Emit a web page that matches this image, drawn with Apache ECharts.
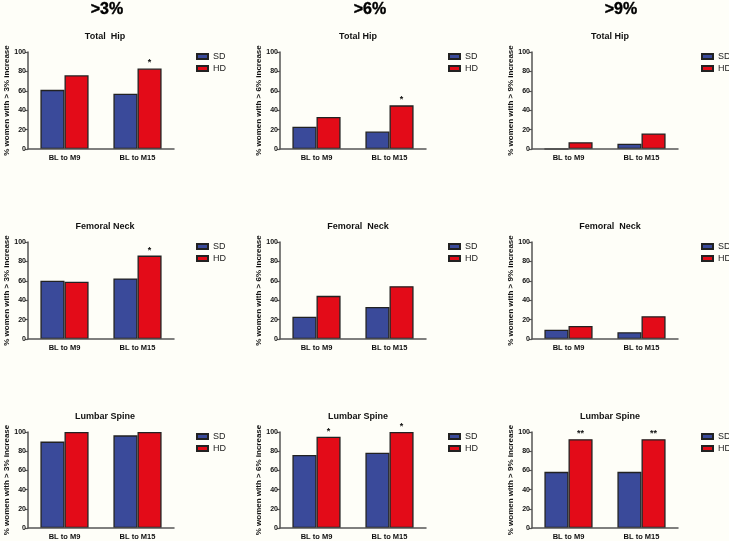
<!DOCTYPE html>
<html>
<head>
<meta charset="utf-8">
<script src="https://cdn.jsdelivr.net/npm/echarts@6/dist/echarts.min.js"></script>
<style>
html,body{margin:0;padding:0;background:#fefef8;}
#chart{width:729px;height:541px;}
</style>
</head>
<body>
<div id="chart"></div>
<script>
// ---- data ----
var categories = ['BL to M9', 'BL to M15'];
var thresholds = ['>3%', '>6%', '>9%'];
var yAxisTitles = ['% women with > 3% increase', '% women with > 6% increase', '% women with > 9% increase'];
var panelTitles = [
  'Total  Hip', 'Total Hip', 'Total Hip',
  'Femoral Neck', 'Femoral  Neck', 'Femoral  Neck',
  'Lumbar Spine', 'Lumbar Spine', 'Lumbar Spine'
];
var seriesNames = ['SD', 'HD'];
var yTicks = [0, 20, 40, 60, 80, 100];
// values per panel (row-major: Total Hip, Femoral Neck, Lumbar Spine x >3%, >6%, >9%)
var sdValues = [
  [61, 57], [23, 18], [0, 5.5],
  [60, 62.5], [23, 33], [9.5, 7],
  [90, 96.5], [76, 78.5], [58.5, 58.5]
];
var hdValues = [
  [76, 83], [33, 45], [7, 16],
  [59, 86], [44.5, 54.5], [13.5, 23.5],
  [100, 100], [95, 100], [92.5, 92.5]
];
var hdStars = [
  ['', '*'], ['', '*'], ['', ''],
  ['', '*'], ['', ''], ['', ''],
  ['', ''], ['*', '*'], ['**', '**']
];

// ---- layout ----
var FONT = '"Liberation Sans", Arial, sans-serif';
var colLeft = [28, 280, 532];
var colHeader = [102, 365, 616];
var colTitle = [100, 353, 605];
var colLegend = [196, 448, 701];
var rowTop = [52, 242, 432];
var gridW = 146, gridH = 97;
var colors = ['#3a4a9a', '#e30b18'];

var chart = echarts.init(document.getElementById('chart'), null, {renderer: 'canvas'});
var option = {
  backgroundColor: '#fefef8',
  animation: false,
  title: [], grid: [], xAxis: [], yAxis: [], series: [], legend: []
};

for (var c = 0; c < 3; c++) {
  option.title.push({
    text: thresholds[c], left: colHeader[c], top: -3, textAlign: 'center',
    textStyle: {fontFamily: FONT, fontSize: 16, fontWeight: 'bold', color: '#000',
      textBorderColor: '#000', textBorderWidth: 0.4}
  });
}

for (var i = 0; i < 9; i++) {
  var r = Math.floor(i / 3), c = i % 3;
  option.title.push({
    text: panelTitles[i], left: colTitle[c], top: rowTop[r] - 25, textAlign: 'center',
    textStyle: {fontFamily: FONT, fontSize: 9, fontWeight: 'bold', color: '#111'}
  });
  option.grid.push({left: colLeft[c], top: rowTop[r], width: gridW, height: gridH, containLabel: false});
  option.xAxis.push({
    type: 'category', gridIndex: i, data: categories,
    axisLine: {show: true, lineStyle: {color: '#555', width: 1.5}},
    axisTick: {show: false},
    axisLabel: {fontFamily: FONT, fontSize: 7.5, fontWeight: 'bold', color: '#111', margin: 5},
    z: 5
  });
  option.yAxis.push({
    type: 'value', gridIndex: i, min: yTicks[0], max: yTicks[yTicks.length - 1], interval: yTicks[1] - yTicks[0],
    name: yAxisTitles[c], nameLocation: 'middle', nameGap: 17, nameRotate: 90,
    nameTextStyle: {fontFamily: FONT, fontSize: 8, fontWeight: 'bold', color: '#111'},
    axisLine: {show: true, lineStyle: {color: '#555', width: 1.5}},
    axisTick: {show: true, length: 3, lineStyle: {color: '#555', width: 1.2}},
    axisLabel: {fontFamily: FONT, fontSize: 7, fontWeight: 'bold', color: '#111', margin: 2},
    splitLine: {show: false}
  });
  option.series.push({
    type: 'bar', name: seriesNames[0], xAxisIndex: i, yAxisIndex: i,
    data: sdValues[i], barGap: '0%', barCategoryGap: '34%',
    itemStyle: {color: colors[0], borderColor: '#222', borderWidth: 1.3}
  });
  (function (idx) {
    option.series.push({
      type: 'bar', name: seriesNames[1], xAxisIndex: idx, yAxisIndex: idx,
      data: hdValues[idx], barGap: '0%', barCategoryGap: '34%',
      itemStyle: {color: colors[1], borderColor: '#222', borderWidth: 1.3},
      label: {
        show: true, position: 'top', distance: 1,
        fontFamily: FONT, fontSize: 9, fontWeight: 'bold', color: '#111',
        formatter: function (p) { return hdStars[idx][p.dataIndex]; }
      }
    });
  })(i);
  option.legend.push({
    data: seriesNames, orient: 'vertical', left: colLegend[c], top: rowTop[r],
    itemWidth: 11, itemHeight: 5, itemGap: 3, selectedMode: false,
    icon: 'rect',
    textStyle: {fontFamily: FONT, fontSize: 9, color: '#222', padding: [0, 0, 0, 0]},
    padding: 0
  });
}

chart.setOption(option);
</script>
</body>
</html>
